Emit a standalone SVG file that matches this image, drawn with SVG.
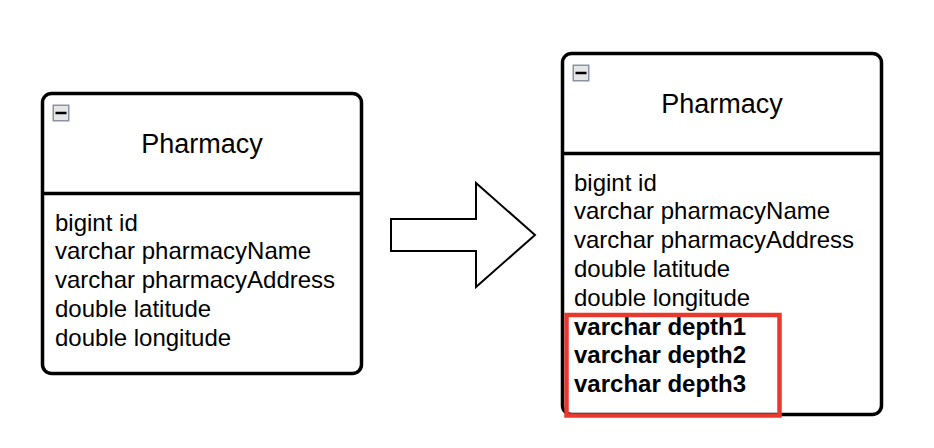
<svg xmlns="http://www.w3.org/2000/svg" width="934" height="448" viewBox="0 0 934 448">
<style>
.box{fill:#fff;stroke:#000;stroke-width:3.5}
.div{stroke:#000;stroke-width:3.5}
.title{font-family:"Liberation Sans",Arial,sans-serif;font-size:27px;text-anchor:middle;fill:#000}
.attr{font-family:"Liberation Sans",Arial,sans-serif;font-size:24px;fill:#000}
.bold{font-weight:bold}
.icon{fill:#e6e6e6;stroke:#8a93a6;stroke-width:1.5}
.minus{stroke:#000;stroke-width:2.5}
</style>
<g id="left-table">
<rect class="box" x="42.5" y="93.5" width="319" height="280" rx="9"/>
<line class="div" x1="42.5" y1="193.5" x2="361.5" y2="193.5"/>
<rect class="icon" x="53.25" y="105.25" width="15.5" height="15.5"/>
<line class="minus" x1="55.5" y1="113" x2="66.5" y2="113"/>
<text class="title" x="202" y="152.5">Pharmacy</text>
<text class="attr" x="55" y="230.5">bigint id</text>
<text class="attr" x="55" y="259.3">varchar pharmacyName</text>
<text class="attr" x="55" y="288.1">varchar pharmacyAddress</text>
<text class="attr" x="55" y="316.9">double latitude</text>
<text class="attr" x="55" y="345.7">double longitude</text>
</g>
<g id="connectors">
<polygon points="391,219 476,219 476,183 535,235 476,287 476,251 391,251" fill="#fff" stroke="#000" stroke-width="2"/>
</g>
<g id="right-table">
<rect class="box" x="562.5" y="53.5" width="319" height="361" rx="9"/>
<line class="div" x1="562.5" y1="153.5" x2="881.5" y2="153.5"/>
<rect class="icon" x="573.25" y="65.25" width="15.5" height="15.5"/>
<line class="minus" x1="575.5" y1="73" x2="586.5" y2="73"/>
<text class="title" x="722" y="112.5">Pharmacy</text>
<text class="attr" x="574" y="190.5">bigint id</text>
<text class="attr" x="574" y="219.3">varchar pharmacyName</text>
<text class="attr" x="574" y="248.1">varchar pharmacyAddress</text>
<text class="attr" x="574" y="276.9">double latitude</text>
<text class="attr" x="574" y="305.7">double longitude</text>
<text class="attr bold" x="574" y="334.5">varchar depth1</text>
<text class="attr bold" x="574" y="363.3">varchar depth2</text>
<text class="attr bold" x="574" y="392.1">varchar depth3</text>
</g>
<g id="highlight">
<rect x="566.5" y="315" width="213" height="100.5" fill="none" stroke="#e8392f" stroke-width="4.5"/>
</g>
</svg>
